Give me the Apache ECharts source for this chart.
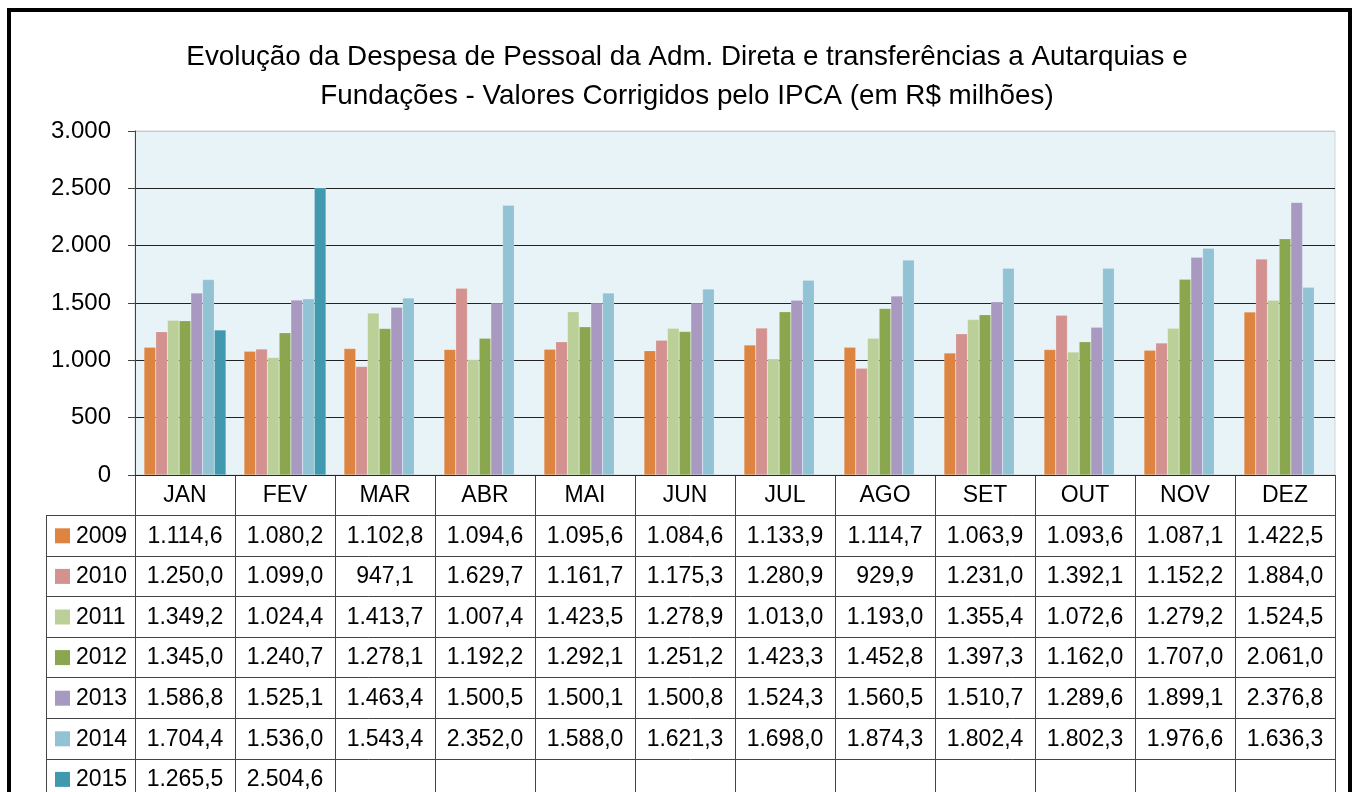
<!DOCTYPE html>
<html>
<head>
<meta charset="utf-8">
<script src="https://cdn.jsdelivr.net/npm/echarts@6/dist/echarts.min.js"></script>
<style>
  html, body { margin: 0; padding: 0; background: #fff; }
  #chart { width: 1354px; height: 792px; }
</style>
</head>
<body>
<div id="chart"></div>
<script>
const months = ['JAN', 'FEV', 'MAR', 'ABR', 'MAI', 'JUN', 'JUL', 'AGO', 'SET', 'OUT', 'NOV', 'DEZ']
const years = ['2009', '2010', '2011', '2012', '2013', '2014', '2015']
const y2009 = [1114.6, 1080.2, 1102.8, 1094.6, 1095.6, 1084.6, 1133.9, 1114.7, 1063.9, 1093.6, 1087.1, 1422.5]
const y2010 = [1250.0, 1099.0, 947.1, 1629.7, 1161.7, 1175.3, 1280.9, 929.9, 1231.0, 1392.1, 1152.2, 1884.0]
const y2011 = [1349.2, 1024.4, 1413.7, 1007.4, 1423.5, 1278.9, 1013.0, 1193.0, 1355.4, 1072.6, 1279.2, 1524.5]
const y2012 = [1345.0, 1240.7, 1278.1, 1192.2, 1292.1, 1251.2, 1423.3, 1452.8, 1397.3, 1162.0, 1707.0, 2061.0]
const y2013 = [1586.8, 1525.1, 1463.4, 1500.5, 1500.1, 1500.8, 1524.3, 1560.5, 1510.7, 1289.6, 1899.1, 2376.8]
const y2014 = [1704.4, 1536.0, 1543.4, 2352.0, 1588.0, 1621.3, 1698.0, 1874.3, 1802.4, 1802.3, 1976.6, 1636.3]
const y2015 = [1265.5, 2504.6, null, null, null, null, null, null, null, null, null, null]
const yTicks = [0, 500, 1000, 1500, 2000, 2500, 3000]

const seriesData = [y2009, y2010, y2011, y2012, y2013, y2014, y2015]
const colors = ['#dd8440', '#d39290', '#bbd098', '#8aa64e', '#a899c0', '#92c3d5', '#4199b0']

// pt-BR number format: 1.114,6
function thousands(s) {
  return s.replace(/\B(?=(\d{3})+(?!\d))/g, '.')
}
function fmt(v) {
  if (v == null) return ''
  const parts = v.toFixed(1).split('.')
  return thousands(parts[0]) + ',' + parts[1]
}

const gridLeft = 135
const gridTop = 131
const gridW = 1200
const gridH = 344
const cellW = gridW / months.length
const headTop = gridTop + gridH
const headH = 40
const rowH = 40.6
const legLeft = 46
const lineColor = '#444'
const tableFont = '"Liberation Sans", Arial, sans-serif'

function buildTable() {
  const g = []
  const tableTop = headTop + headH
  const bottom = tableTop + rowH * years.length
  // horizontal lines
  g.push({ type: 'line', shape: { x1: gridLeft, y1: headTop + 0.5, x2: gridLeft + gridW, y2: headTop + 0.5 }, style: { stroke: lineColor, lineWidth: 1 } })
  for (let r = 0; r <= years.length; r++) {
    const y = Math.round(tableTop + rowH * r) + 0.5
    g.push({ type: 'line', shape: { x1: legLeft, y1: y, x2: gridLeft + gridW, y2: y }, style: { stroke: lineColor, lineWidth: 1 } })
  }
  // vertical lines
  g.push({ type: 'line', shape: { x1: legLeft + 0.5, y1: tableTop, x2: legLeft + 0.5, y2: bottom }, style: { stroke: lineColor, lineWidth: 1 } })
  for (let i = 0; i <= months.length; i++) {
    const x = gridLeft + cellW * i + 0.5
    g.push({ type: 'line', shape: { x1: x, y1: headTop, x2: x, y2: bottom }, style: { stroke: lineColor, lineWidth: 1 } })
  }
  // month header
  months.forEach((m, i) => {
    g.push({ type: 'text', x: gridLeft + cellW * i + cellW / 2, y: headTop + headH / 2 + 1,
      style: { text: m, fill: '#000', font: '23px ' + tableFont, textAlign: 'center', textVerticalAlign: 'middle' } })
  })
  // rows
  years.forEach((yr, r) => {
    const cy = tableTop + rowH * r + rowH / 2 + 1
    g.push({ type: 'rect', shape: { x: 55, y: cy - 8, width: 15, height: 15 }, style: { fill: colors[r] } })
    g.push({ type: 'text', x: 76, y: cy, style: { text: yr, fill: '#000', font: '23px ' + tableFont, textAlign: 'left', textVerticalAlign: 'middle' } })
    seriesData[r].forEach((v, i) => {
      g.push({ type: 'text', x: gridLeft + cellW * i + cellW / 2, y: cy,
        style: { text: fmt(v), fill: '#000', font: '23px ' + tableFont, textAlign: 'center', textVerticalAlign: 'middle' } })
    })
  })
  // outer frame
  g.push({ type: 'rect', shape: { x: 9, y: 10, width: 1341, height: 900 }, style: { fill: 'none', stroke: '#000', lineWidth: 4 } })
  return g
}

const chart = echarts.init(document.getElementById('chart'))
chart.setOption({
  animation: false,
  backgroundColor: '#fff',
  title: {
    text: 'Evolução da Despesa de Pessoal da Adm. Direta e transferências a Autarquias e\nFundações - Valores Corrigidos pelo IPCA (em R$ milhões)',
    left: 682,
    top: 33,
    textAlign: 'center',
    textStyle: { fontSize: 27.8, fontWeight: 'normal', color: '#000', lineHeight: 39, fontFamily: tableFont }
  },
  grid: {
    left: gridLeft, top: gridTop, width: gridW, height: gridH,
    show: true, backgroundColor: '#e8f3f8', borderColor: '#cfd6da', borderWidth: 1
  },
  xAxis: {
    type: 'category',
    data: months,
    axisLine: { show: false },
    axisTick: { show: false },
    axisLabel: { show: false }
  },
  yAxis: {
    type: 'value',
    min: yTicks[0],
    max: yTicks[yTicks.length - 1],
    interval: 500,
    axisLine: { show: true, lineStyle: { color: lineColor } },
    axisTick: { show: true, length: 7, lineStyle: { color: lineColor } },
    axisLabel: {
      margin: 24, fontSize: 24, color: '#000', fontFamily: tableFont,
      formatter: v => thousands(String(v))
    },
    splitLine: { lineStyle: { color: ['#222', '#222', '#222', '#222', '#222', '#222', '#c8c8c8'], width: 1 } }
  },
  series: years.map((yr, k) => ({
    name: yr,
    type: 'bar',
    data: seriesData[k],
    barGap: '0%',
    barCategoryGap: '18%',
    itemStyle: { color: colors[k], borderColor: 'rgba(255,255,255,0.35)', borderWidth: 0.5 }
  })),
  graphic: buildTable()
})
</script>
</body>
</html>
